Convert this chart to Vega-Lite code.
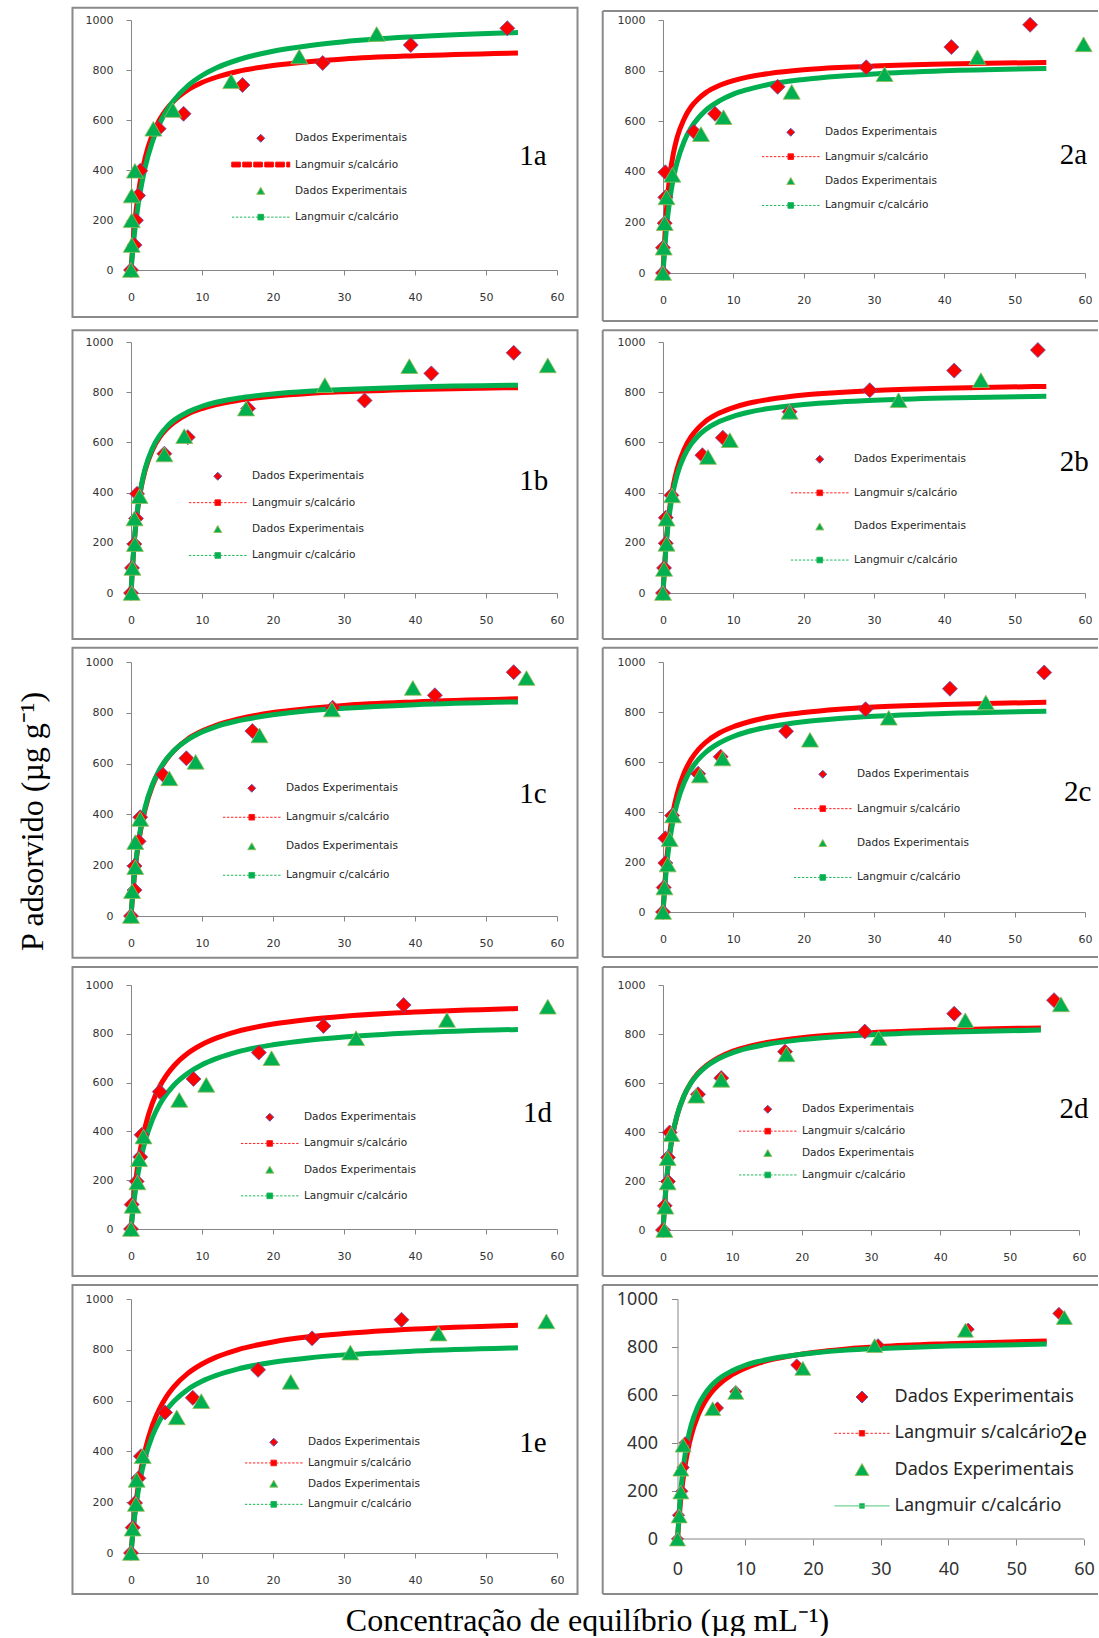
{
"$schema": "https://vega.github.io/schema/vega-lite/v6.json",
"background": "white",
"padding": {"left": 16, "top": 6, "right": 0, "bottom": 0},
"config": {
 "view": {"stroke": null},
 "axis": {"grid": false, "domainColor": "#868686", "domainWidth": 1, "tickColor": "#868686", "tickSize": 5, "labelFont": "DejaVu Sans", "labelFontSize": 11, "labelColor": "#333333", "labelFlush": false, "labelOverlap": false, "titleFont": "Liberation Serif", "titleFontSize": 32, "titleFontWeight": "normal", "titleColor": "#000000"},
 "axisX": {"labelPadding": 16},
 "axisY": {"labelPadding": 13},
 "legend": {"orient": "none", "direction": "vertical", "padding": 0, "symbolSize": 64, "symbolStrokeWidth": 1, "symbolOpacity": 1, "labelFont": "DejaVu Sans", "labelFontSize": 10.5, "labelColor": "#262626", "labelOffset": 29, "labelLimit": 0},
 "line": {"interpolate": "monotone", "strokeWidth": 5},
 "point": {"opacity": 1}
},
"datasets": {
"pts": [
{"p":"1a","s":"A","x":0,"y":0},{"p":"1a","s":"A","x":0.5,"y":100},{"p":"1a","s":"A","x":0.7,"y":199},{"p":"1a","s":"A","x":1.0,"y":298},{"p":"1a","s":"A","x":1.3,"y":397},{"p":"1a","s":"A","x":3.9,"y":565},{"p":"1a","s":"A","x":7.4,"y":625},{"p":"1a","s":"A","x":15.7,"y":740},{"p":"1a","s":"A","x":27,"y":828},{"p":"1a","s":"A","x":39.4,"y":900},{"p":"1a","s":"A","x":53,"y":967},
{"p":"1a","s":"C","x":0,"y":0},{"p":"1a","s":"C","x":0.1,"y":100},{"p":"1a","s":"C","x":0.1,"y":199},{"p":"1a","s":"C","x":0.1,"y":298},{"p":"1a","s":"C","x":0.56,"y":397},{"p":"1a","s":"C","x":3.15,"y":565},{"p":"1a","s":"C","x":5.9,"y":640},{"p":"1a","s":"C","x":14.1,"y":755},{"p":"1a","s":"C","x":23.7,"y":854},{"p":"1a","s":"C","x":34.6,"y":944},
{"p":"2a","s":"A","x":0,"y":0},{"p":"2a","s":"A","x":0,"y":100},{"p":"2a","s":"A","x":0.24,"y":197},{"p":"2a","s":"A","x":0.33,"y":299},{"p":"2a","s":"A","x":0.33,"y":398},{"p":"2a","s":"A","x":4.4,"y":558},{"p":"2a","s":"A","x":7.4,"y":629},{"p":"2a","s":"A","x":16.3,"y":736},{"p":"2a","s":"A","x":28.9,"y":813},{"p":"2a","s":"A","x":41.0,"y":893},{"p":"2a","s":"A","x":52.2,"y":981},
{"p":"2a","s":"C","x":0,"y":0},{"p":"2a","s":"C","x":0.1,"y":100},{"p":"2a","s":"C","x":0.24,"y":197},{"p":"2a","s":"C","x":0.5,"y":299},{"p":"2a","s":"C","x":1.33,"y":388},{"p":"2a","s":"C","x":5.4,"y":549},{"p":"2a","s":"C","x":8.6,"y":616},{"p":"2a","s":"C","x":18.3,"y":716},{"p":"2a","s":"C","x":31.5,"y":786},{"p":"2a","s":"C","x":44.7,"y":853},{"p":"2a","s":"C","x":59.8,"y":904},
{"p":"1b","s":"A","x":0,"y":0},{"p":"1b","s":"A","x":0.14,"y":100},{"p":"1b","s":"A","x":0.47,"y":195},{"p":"1b","s":"A","x":0.7,"y":297},{"p":"1b","s":"A","x":0.85,"y":395},{"p":"1b","s":"A","x":4.7,"y":555},{"p":"1b","s":"A","x":8.0,"y":621},{"p":"1b","s":"A","x":16.5,"y":735},{"p":"1b","s":"A","x":32.9,"y":767},{"p":"1b","s":"A","x":42.3,"y":875},{"p":"1b","s":"A","x":53.9,"y":957},
{"p":"1b","s":"C","x":0.1,"y":0},{"p":"1b","s":"C","x":0.2,"y":100},{"p":"1b","s":"C","x":0.55,"y":195},{"p":"1b","s":"C","x":0.5,"y":297},{"p":"1b","s":"C","x":1.2,"y":386},{"p":"1b","s":"C","x":4.7,"y":552},{"p":"1b","s":"C","x":7.5,"y":625},{"p":"1b","s":"C","x":16.2,"y":735},{"p":"1b","s":"C","x":27.3,"y":828},{"p":"1b","s":"C","x":39.2,"y":904},{"p":"1b","s":"C","x":58.7,"y":907},
{"p":"2b","s":"A","x":0,"y":0},{"p":"2b","s":"A","x":0.15,"y":100},{"p":"2b","s":"A","x":0.4,"y":198},{"p":"2b","s":"A","x":0.4,"y":300},{"p":"2b","s":"A","x":1.2,"y":389},{"p":"2b","s":"A","x":5.6,"y":549},{"p":"2b","s":"A","x":8.5,"y":619},{"p":"2b","s":"A","x":18.0,"y":722},{"p":"2b","s":"A","x":29.4,"y":808},{"p":"2b","s":"A","x":41.4,"y":886},{"p":"2b","s":"A","x":53.3,"y":968},
{"p":"2b","s":"C","x":0,"y":0},{"p":"2b","s":"C","x":0.15,"y":96},{"p":"2b","s":"C","x":0.5,"y":196},{"p":"2b","s":"C","x":0.5,"y":296},{"p":"2b","s":"C","x":1.3,"y":389},{"p":"2b","s":"C","x":6.4,"y":542},{"p":"2b","s":"C","x":9.5,"y":609},{"p":"2b","s":"C","x":18.0,"y":722},{"p":"2b","s":"C","x":33.5,"y":768},{"p":"2b","s":"C","x":45.2,"y":848},
{"p":"1c","s":"A","x":0,"y":0},{"p":"1c","s":"A","x":0.5,"y":102},{"p":"1c","s":"A","x":0.5,"y":197},{"p":"1c","s":"A","x":1.07,"y":294},{"p":"1c","s":"A","x":1.3,"y":389},{"p":"1c","s":"A","x":4.5,"y":556},{"p":"1c","s":"A","x":7.8,"y":621},{"p":"1c","s":"A","x":17.1,"y":728},{"p":"1c","s":"A","x":28.4,"y":820},{"p":"1c","s":"A","x":42.8,"y":869},{"p":"1c","s":"A","x":53.9,"y":960},
{"p":"1c","s":"C","x":0,"y":0},{"p":"1c","s":"C","x":0.15,"y":98},{"p":"1c","s":"C","x":0.6,"y":192},{"p":"1c","s":"C","x":0.6,"y":291},{"p":"1c","s":"C","x":1.3,"y":382},{"p":"1c","s":"C","x":5.4,"y":542},{"p":"1c","s":"C","x":9.1,"y":607},{"p":"1c","s":"C","x":18.1,"y":711},{"p":"1c","s":"C","x":28.3,"y":813},{"p":"1c","s":"C","x":39.7,"y":898},{"p":"1c","s":"C","x":55.7,"y":937},
{"p":"2c","s":"A","x":0,"y":0},{"p":"2c","s":"A","x":0.1,"y":98},{"p":"2c","s":"A","x":0.33,"y":196},{"p":"2c","s":"A","x":0.33,"y":295},{"p":"2c","s":"A","x":1.3,"y":386},{"p":"2c","s":"A","x":5.0,"y":553},{"p":"2c","s":"A","x":8.2,"y":621},{"p":"2c","s":"A","x":17.5,"y":723},{"p":"2c","s":"A","x":28.8,"y":811},{"p":"2c","s":"A","x":40.8,"y":893},{"p":"2c","s":"A","x":54.2,"y":958},
{"p":"2c","s":"C","x":0,"y":0},{"p":"2c","s":"C","x":0.2,"y":98},{"p":"2c","s":"C","x":0.67,"y":190},{"p":"2c","s":"C","x":0.95,"y":291},{"p":"2c","s":"C","x":1.43,"y":386},{"p":"2c","s":"C","x":5.25,"y":546},{"p":"2c","s":"C","x":8.45,"y":614},{"p":"2c","s":"C","x":20.9,"y":689},{"p":"2c","s":"C","x":32.1,"y":777},{"p":"2c","s":"C","x":45.9,"y":838},
{"p":"1d","s":"A","x":0,"y":0},{"p":"1d","s":"A","x":0.1,"y":100},{"p":"1d","s":"A","x":0.8,"y":195},{"p":"1d","s":"A","x":1.3,"y":295},{"p":"1d","s":"A","x":1.5,"y":386},{"p":"1d","s":"A","x":4.05,"y":563},{"p":"1d","s":"A","x":8.8,"y":615},{"p":"1d","s":"A","x":18.0,"y":723},{"p":"1d","s":"A","x":27.1,"y":832},{"p":"1d","s":"A","x":38.4,"y":918},
{"p":"1d","s":"C","x":0,"y":0},{"p":"1d","s":"C","x":0.24,"y":95},{"p":"1d","s":"C","x":0.9,"y":191},{"p":"1d","s":"C","x":1.14,"y":286},{"p":"1d","s":"C","x":1.76,"y":379},{"p":"1d","s":"C","x":6.8,"y":529},{"p":"1d","s":"C","x":10.6,"y":591},{"p":"1d","s":"C","x":19.8,"y":700},{"p":"1d","s":"C","x":31.7,"y":782},{"p":"1d","s":"C","x":44.5,"y":857},{"p":"1d","s":"C","x":58.7,"y":911},
{"p":"2d","s":"A","x":0,"y":0},{"p":"2d","s":"A","x":0.24,"y":99},{"p":"2d","s":"A","x":0.72,"y":198},{"p":"2d","s":"A","x":0.72,"y":296},{"p":"2d","s":"A","x":0.96,"y":398},{"p":"2d","s":"A","x":5.05,"y":554},{"p":"2d","s":"A","x":8.4,"y":620},{"p":"2d","s":"A","x":17.6,"y":728},{"p":"2d","s":"A","x":29.1,"y":810},{"p":"2d","s":"A","x":42.0,"y":883},{"p":"2d","s":"A","x":56.4,"y":938},
{"p":"2d","s":"C","x":0.2,"y":0},{"p":"2d","s":"C","x":0.34,"y":95},{"p":"2d","s":"C","x":0.67,"y":194},{"p":"2d","s":"C","x":0.67,"y":293},{"p":"2d","s":"C","x":1.2,"y":391},{"p":"2d","s":"C","x":4.8,"y":548},{"p":"2d","s":"C","x":8.4,"y":613},{"p":"2d","s":"C","x":17.8,"y":717},{"p":"2d","s":"C","x":31.1,"y":783},{"p":"2d","s":"C","x":43.6,"y":856},{"p":"2d","s":"C","x":57.4,"y":921},
{"p":"1e","s":"A","x":0,"y":0},{"p":"1e","s":"A","x":0.24,"y":100},{"p":"1e","s":"A","x":0.57,"y":197},{"p":"1e","s":"A","x":1.04,"y":294},{"p":"1e","s":"A","x":1.4,"y":381},{"p":"1e","s":"A","x":4.8,"y":553},{"p":"1e","s":"A","x":8.7,"y":611},{"p":"1e","s":"A","x":17.9,"y":721},{"p":"1e","s":"A","x":25.5,"y":845},{"p":"1e","s":"A","x":38.1,"y":918},
{"p":"1e","s":"C","x":0,"y":0},{"p":"1e","s":"C","x":0.24,"y":96},{"p":"1e","s":"C","x":0.7,"y":193},{"p":"1e","s":"C","x":0.8,"y":288},{"p":"1e","s":"C","x":1.65,"y":381},{"p":"1e","s":"C","x":6.45,"y":534},{"p":"1e","s":"C","x":9.9,"y":598},{"p":"1e","s":"C","x":22.5,"y":674},{"p":"1e","s":"C","x":30.9,"y":789},{"p":"1e","s":"C","x":43.3,"y":864},{"p":"1e","s":"C","x":58.5,"y":912},
{"p":"2e","s":"A","x":0,"y":0},{"p":"2e","s":"A","x":0.15,"y":99},{"p":"2e","s":"A","x":0.64,"y":199},{"p":"2e","s":"A","x":0.84,"y":298},{"p":"2e","s":"A","x":1.13,"y":401},{"p":"2e","s":"A","x":5.9,"y":546},{"p":"2e","s":"A","x":8.6,"y":614},{"p":"2e","s":"A","x":17.6,"y":725},{"p":"2e","s":"A","x":29.6,"y":809},{"p":"2e","s":"A","x":42.9,"y":874},{"p":"2e","s":"A","x":56.3,"y":940},
{"p":"2e","s":"C","x":0,"y":0},{"p":"2e","s":"C","x":0.25,"y":96},{"p":"2e","s":"C","x":0.5,"y":196},{"p":"2e","s":"C","x":0.5,"y":291},{"p":"2e","s":"C","x":0.84,"y":391},{"p":"2e","s":"C","x":5.2,"y":543},{"p":"2e","s":"C","x":8.6,"y":611},{"p":"2e","s":"C","x":18.5,"y":711},{"p":"2e","s":"C","x":29.1,"y":806},{"p":"2e","s":"C","x":42.5,"y":870},{"p":"2e","s":"C","x":57.1,"y":923}
],
"fit": [
{"p":"1a","s":"B","x":0,"y":0},{"p":"1a","s":"B","x":0.5,"y":180},{"p":"1a","s":"B","x":1,"y":300},{"p":"1a","s":"B","x":1.5,"y":386},{"p":"1a","s":"B","x":2,"y":450},{"p":"1a","s":"B","x":3,"y":540},{"p":"1a","s":"B","x":4,"y":600},{"p":"1a","s":"B","x":5,"y":643},{"p":"1a","s":"B","x":6,"y":675},{"p":"1a","s":"B","x":8,"y":720},{"p":"1a","s":"B","x":10,"y":750},{"p":"1a","s":"B","x":12,"y":771},{"p":"1a","s":"B","x":15,"y":794},{"p":"1a","s":"B","x":20,"y":818},{"p":"1a","s":"B","x":25,"y":833},{"p":"1a","s":"B","x":30,"y":844},{"p":"1a","s":"B","x":40,"y":857},{"p":"1a","s":"B","x":54.5,"y":868},
{"p":"1a","s":"D","x":0,"y":0},{"p":"1a","s":"D","x":0.5,"y":149},{"p":"1a","s":"D","x":1,"y":259},{"p":"1a","s":"D","x":1.5,"y":344},{"p":"1a","s":"D","x":2,"y":412},{"p":"1a","s":"D","x":3,"y":512},{"p":"1a","s":"D","x":4,"y":583},{"p":"1a","s":"D","x":5,"y":636},{"p":"1a","s":"D","x":6,"y":677},{"p":"1a","s":"D","x":8,"y":737},{"p":"1a","s":"D","x":10,"y":778},{"p":"1a","s":"D","x":12,"y":808},{"p":"1a","s":"D","x":15,"y":840},{"p":"1a","s":"D","x":20,"y":875},{"p":"1a","s":"D","x":25,"y":897},{"p":"1a","s":"D","x":30,"y":913},{"p":"1a","s":"D","x":40,"y":933},{"p":"1a","s":"D","x":54.5,"y":950},
{"p":"2a","s":"B","x":0,"y":0},{"p":"2a","s":"B","x":0.5,"y":253},{"p":"2a","s":"B","x":1,"y":391},{"p":"2a","s":"B","x":1.5,"y":476},{"p":"2a","s":"B","x":2,"y":535},{"p":"2a","s":"B","x":3,"y":609},{"p":"2a","s":"B","x":4,"y":657},{"p":"2a","s":"B","x":5,"y":688},{"p":"2a","s":"B","x":6,"y":711},{"p":"2a","s":"B","x":8,"y":741},{"p":"2a","s":"B","x":10,"y":760},{"p":"2a","s":"B","x":12,"y":774},{"p":"2a","s":"B","x":15,"y":788},{"p":"2a","s":"B","x":20,"y":803},{"p":"2a","s":"B","x":25,"y":812},{"p":"2a","s":"B","x":30,"y":818},{"p":"2a","s":"B","x":40,"y":826},{"p":"2a","s":"B","x":54.5,"y":832},
{"p":"2a","s":"D","x":0,"y":0},{"p":"2a","s":"D","x":0.5,"y":180},{"p":"2a","s":"D","x":1,"y":296},{"p":"2a","s":"D","x":1.5,"y":378},{"p":"2a","s":"D","x":2,"y":437},{"p":"2a","s":"D","x":3,"y":520},{"p":"2a","s":"D","x":4,"y":574},{"p":"2a","s":"D","x":5,"y":612},{"p":"2a","s":"D","x":6,"y":641},{"p":"2a","s":"D","x":8,"y":680},{"p":"2a","s":"D","x":10,"y":707},{"p":"2a","s":"D","x":12,"y":725},{"p":"2a","s":"D","x":15,"y":745},{"p":"2a","s":"D","x":20,"y":765},{"p":"2a","s":"D","x":25,"y":778},{"p":"2a","s":"D","x":30,"y":787},{"p":"2a","s":"D","x":40,"y":799},{"p":"2a","s":"D","x":54.5,"y":808},
{"p":"1b","s":"B","x":0,"y":0},{"p":"1b","s":"B","x":0.5,"y":218},{"p":"1b","s":"B","x":1,"y":346},{"p":"1b","s":"B","x":1.5,"y":430},{"p":"1b","s":"B","x":2,"y":490},{"p":"1b","s":"B","x":3,"y":569},{"p":"1b","s":"B","x":4,"y":619},{"p":"1b","s":"B","x":5,"y":653},{"p":"1b","s":"B","x":6,"y":678},{"p":"1b","s":"B","x":8,"y":713},{"p":"1b","s":"B","x":10,"y":735},{"p":"1b","s":"B","x":12,"y":751},{"p":"1b","s":"B","x":15,"y":767},{"p":"1b","s":"B","x":20,"y":784},{"p":"1b","s":"B","x":25,"y":795},{"p":"1b","s":"B","x":30,"y":802},{"p":"1b","s":"B","x":40,"y":811},{"p":"1b","s":"B","x":54.5,"y":818},
{"p":"1b","s":"D","x":0,"y":0},{"p":"1b","s":"D","x":0.5,"y":220},{"p":"1b","s":"D","x":1,"y":350},{"p":"1b","s":"D","x":1.5,"y":435},{"p":"1b","s":"D","x":2,"y":496},{"p":"1b","s":"D","x":3,"y":576},{"p":"1b","s":"D","x":4,"y":626},{"p":"1b","s":"D","x":5,"y":661},{"p":"1b","s":"D","x":6,"y":687},{"p":"1b","s":"D","x":8,"y":721},{"p":"1b","s":"D","x":10,"y":744},{"p":"1b","s":"D","x":12,"y":760},{"p":"1b","s":"D","x":15,"y":776},{"p":"1b","s":"D","x":20,"y":793},{"p":"1b","s":"D","x":25,"y":804},{"p":"1b","s":"D","x":30,"y":811},{"p":"1b","s":"D","x":40,"y":821},{"p":"1b","s":"D","x":54.5,"y":828},
{"p":"2b","s":"B","x":0,"y":0},{"p":"2b","s":"B","x":0.5,"y":219},{"p":"2b","s":"B","x":1,"y":348},{"p":"2b","s":"B","x":1.5,"y":433},{"p":"2b","s":"B","x":2,"y":493},{"p":"2b","s":"B","x":3,"y":572},{"p":"2b","s":"B","x":4,"y":623},{"p":"2b","s":"B","x":5,"y":657},{"p":"2b","s":"B","x":6,"y":683},{"p":"2b","s":"B","x":8,"y":717},{"p":"2b","s":"B","x":10,"y":739},{"p":"2b","s":"B","x":12,"y":755},{"p":"2b","s":"B","x":15,"y":771},{"p":"2b","s":"B","x":20,"y":789},{"p":"2b","s":"B","x":25,"y":799},{"p":"2b","s":"B","x":30,"y":807},{"p":"2b","s":"B","x":40,"y":816},{"p":"2b","s":"B","x":54.5,"y":823},
{"p":"2b","s":"D","x":0,"y":0},{"p":"2b","s":"D","x":0.5,"y":209},{"p":"2b","s":"D","x":1,"y":332},{"p":"2b","s":"D","x":1.5,"y":412},{"p":"2b","s":"D","x":2,"y":470},{"p":"2b","s":"D","x":3,"y":545},{"p":"2b","s":"D","x":4,"y":593},{"p":"2b","s":"D","x":5,"y":626},{"p":"2b","s":"D","x":6,"y":650},{"p":"2b","s":"D","x":8,"y":683},{"p":"2b","s":"D","x":10,"y":704},{"p":"2b","s":"D","x":12,"y":719},{"p":"2b","s":"D","x":15,"y":735},{"p":"2b","s":"D","x":20,"y":751},{"p":"2b","s":"D","x":25,"y":761},{"p":"2b","s":"D","x":30,"y":768},{"p":"2b","s":"D","x":40,"y":777},{"p":"2b","s":"D","x":54.5,"y":784},
{"p":"1c","s":"B","x":0,"y":0},{"p":"1c","s":"B","x":0.5,"y":163},{"p":"1c","s":"B","x":1,"y":276},{"p":"1c","s":"B","x":1.5,"y":359},{"p":"1c","s":"B","x":2,"y":422},{"p":"1c","s":"B","x":3,"y":511},{"p":"1c","s":"B","x":4,"y":572},{"p":"1c","s":"B","x":5,"y":616},{"p":"1c","s":"B","x":6,"y":649},{"p":"1c","s":"B","x":8,"y":697},{"p":"1c","s":"B","x":10,"y":728},{"p":"1c","s":"B","x":12,"y":751},{"p":"1c","s":"B","x":15,"y":775},{"p":"1c","s":"B","x":20,"y":801},{"p":"1c","s":"B","x":25,"y":817},{"p":"1c","s":"B","x":30,"y":829},{"p":"1c","s":"B","x":40,"y":843},{"p":"1c","s":"B","x":54.5,"y":855},
{"p":"1c","s":"D","x":0,"y":0},{"p":"1c","s":"D","x":0.5,"y":169},{"p":"1c","s":"D","x":1,"y":284},{"p":"1c","s":"D","x":1.5,"y":366},{"p":"1c","s":"D","x":2,"y":429},{"p":"1c","s":"D","x":3,"y":516},{"p":"1c","s":"D","x":4,"y":575},{"p":"1c","s":"D","x":5,"y":618},{"p":"1c","s":"D","x":6,"y":650},{"p":"1c","s":"D","x":8,"y":694},{"p":"1c","s":"D","x":10,"y":724},{"p":"1c","s":"D","x":12,"y":746},{"p":"1c","s":"D","x":15,"y":768},{"p":"1c","s":"D","x":20,"y":792},{"p":"1c","s":"D","x":25,"y":808},{"p":"1c","s":"D","x":30,"y":818},{"p":"1c","s":"D","x":40,"y":832},{"p":"1c","s":"D","x":54.5,"y":843},
{"p":"2c","s":"B","x":0,"y":0},{"p":"2c","s":"B","x":0.5,"y":200},{"p":"2c","s":"B","x":1,"y":324},{"p":"2c","s":"B","x":1.5,"y":410},{"p":"2c","s":"B","x":2,"y":472},{"p":"2c","s":"B","x":3,"y":556},{"p":"2c","s":"B","x":4,"y":611},{"p":"2c","s":"B","x":5,"y":649},{"p":"2c","s":"B","x":6,"y":677},{"p":"2c","s":"B","x":8,"y":716},{"p":"2c","s":"B","x":10,"y":741},{"p":"2c","s":"B","x":12,"y":759},{"p":"2c","s":"B","x":15,"y":779},{"p":"2c","s":"B","x":20,"y":798},{"p":"2c","s":"B","x":25,"y":811},{"p":"2c","s":"B","x":30,"y":820},{"p":"2c","s":"B","x":40,"y":830},{"p":"2c","s":"B","x":54.5,"y":839},
{"p":"2c","s":"D","x":0,"y":0},{"p":"2c","s":"D","x":0.5,"y":179},{"p":"2c","s":"D","x":1,"y":294},{"p":"2c","s":"D","x":1.5,"y":375},{"p":"2c","s":"D","x":2,"y":435},{"p":"2c","s":"D","x":3,"y":517},{"p":"2c","s":"D","x":4,"y":571},{"p":"2c","s":"D","x":5,"y":609},{"p":"2c","s":"D","x":6,"y":637},{"p":"2c","s":"D","x":8,"y":676},{"p":"2c","s":"D","x":10,"y":702},{"p":"2c","s":"D","x":12,"y":721},{"p":"2c","s":"D","x":15,"y":740},{"p":"2c","s":"D","x":20,"y":761},{"p":"2c","s":"D","x":25,"y":774},{"p":"2c","s":"D","x":30,"y":783},{"p":"2c","s":"D","x":40,"y":794},{"p":"2c","s":"D","x":54.5,"y":803},
{"p":"1d","s":"B","x":0,"y":0},{"p":"1d","s":"B","x":0.5,"y":158},{"p":"1d","s":"B","x":1,"y":270},{"p":"1d","s":"B","x":1.5,"y":354},{"p":"1d","s":"B","x":2,"y":420},{"p":"1d","s":"B","x":3,"y":516},{"p":"1d","s":"B","x":4,"y":582},{"p":"1d","s":"B","x":5,"y":630},{"p":"1d","s":"B","x":6,"y":667},{"p":"1d","s":"B","x":8,"y":720},{"p":"1d","s":"B","x":10,"y":756},{"p":"1d","s":"B","x":12,"y":782},{"p":"1d","s":"B","x":15,"y":810},{"p":"1d","s":"B","x":20,"y":840},{"p":"1d","s":"B","x":25,"y":859},{"p":"1d","s":"B","x":30,"y":872},{"p":"1d","s":"B","x":40,"y":889},{"p":"1d","s":"B","x":54.5,"y":904},
{"p":"1d","s":"D","x":0,"y":0},{"p":"1d","s":"D","x":0.5,"y":131},{"p":"1d","s":"D","x":1,"y":228},{"p":"1d","s":"D","x":1.5,"y":302},{"p":"1d","s":"D","x":2,"y":360},{"p":"1d","s":"D","x":3,"y":447},{"p":"1d","s":"D","x":4,"y":508},{"p":"1d","s":"D","x":5,"y":553},{"p":"1d","s":"D","x":6,"y":588},{"p":"1d","s":"D","x":8,"y":638},{"p":"1d","s":"D","x":10,"y":673},{"p":"1d","s":"D","x":12,"y":698},{"p":"1d","s":"D","x":15,"y":726},{"p":"1d","s":"D","x":20,"y":755},{"p":"1d","s":"D","x":25,"y":774},{"p":"1d","s":"D","x":30,"y":787},{"p":"1d","s":"D","x":40,"y":804},{"p":"1d","s":"D","x":54.5,"y":818},
{"p":"2d","s":"B","x":0,"y":0},{"p":"2d","s":"B","x":0.5,"y":196},{"p":"2d","s":"B","x":1,"y":319},{"p":"2d","s":"B","x":1.5,"y":403},{"p":"2d","s":"B","x":2,"y":464},{"p":"2d","s":"B","x":3,"y":546},{"p":"2d","s":"B","x":4,"y":600},{"p":"2d","s":"B","x":5,"y":638},{"p":"2d","s":"B","x":6,"y":665},{"p":"2d","s":"B","x":8,"y":703},{"p":"2d","s":"B","x":10,"y":729},{"p":"2d","s":"B","x":12,"y":746},{"p":"2d","s":"B","x":15,"y":765},{"p":"2d","s":"B","x":20,"y":785},{"p":"2d","s":"B","x":25,"y":797},{"p":"2d","s":"B","x":30,"y":805},{"p":"2d","s":"B","x":40,"y":816},{"p":"2d","s":"B","x":54.5,"y":825},
{"p":"2d","s":"D","x":0,"y":0},{"p":"2d","s":"D","x":0.5,"y":199},{"p":"2d","s":"D","x":1,"y":321},{"p":"2d","s":"D","x":1.5,"y":405},{"p":"2d","s":"D","x":2,"y":465},{"p":"2d","s":"D","x":3,"y":546},{"p":"2d","s":"D","x":4,"y":599},{"p":"2d","s":"D","x":5,"y":635},{"p":"2d","s":"D","x":6,"y":662},{"p":"2d","s":"D","x":8,"y":699},{"p":"2d","s":"D","x":10,"y":723},{"p":"2d","s":"D","x":12,"y":740},{"p":"2d","s":"D","x":15,"y":758},{"p":"2d","s":"D","x":20,"y":777},{"p":"2d","s":"D","x":25,"y":789},{"p":"2d","s":"D","x":30,"y":797},{"p":"2d","s":"D","x":40,"y":807},{"p":"2d","s":"D","x":54.5,"y":816},
{"p":"1e","s":"B","x":0,"y":0},{"p":"1e","s":"B","x":0.5,"y":150},{"p":"1e","s":"B","x":1,"y":259},{"p":"1e","s":"B","x":1.5,"y":341},{"p":"1e","s":"B","x":2,"y":406},{"p":"1e","s":"B","x":3,"y":501},{"p":"1e","s":"B","x":4,"y":567},{"p":"1e","s":"B","x":5,"y":616},{"p":"1e","s":"B","x":6,"y":653},{"p":"1e","s":"B","x":8,"y":707},{"p":"1e","s":"B","x":10,"y":744},{"p":"1e","s":"B","x":12,"y":771},{"p":"1e","s":"B","x":15,"y":800},{"p":"1e","s":"B","x":20,"y":831},{"p":"1e","s":"B","x":25,"y":851},{"p":"1e","s":"B","x":30,"y":864},{"p":"1e","s":"B","x":40,"y":882},{"p":"1e","s":"B","x":54.5,"y":897},
{"p":"1e","s":"D","x":0,"y":0},{"p":"1e","s":"D","x":0.5,"y":141},{"p":"1e","s":"D","x":1,"y":241},{"p":"1e","s":"D","x":1.5,"y":317},{"p":"1e","s":"D","x":2,"y":376},{"p":"1e","s":"D","x":3,"y":461},{"p":"1e","s":"D","x":4,"y":520},{"p":"1e","s":"D","x":5,"y":563},{"p":"1e","s":"D","x":6,"y":596},{"p":"1e","s":"D","x":8,"y":644},{"p":"1e","s":"D","x":10,"y":676},{"p":"1e","s":"D","x":12,"y":699},{"p":"1e","s":"D","x":15,"y":724},{"p":"1e","s":"D","x":20,"y":751},{"p":"1e","s":"D","x":25,"y":768},{"p":"1e","s":"D","x":30,"y":780},{"p":"1e","s":"D","x":40,"y":795},{"p":"1e","s":"D","x":54.5,"y":808},
{"p":"2e","s":"B","x":0,"y":0},{"p":"2e","s":"B","x":0.5,"y":171},{"p":"2e","s":"B","x":1,"y":285},{"p":"2e","s":"B","x":1.5,"y":366},{"p":"2e","s":"B","x":2,"y":428},{"p":"2e","s":"B","x":3,"y":513},{"p":"2e","s":"B","x":4,"y":570},{"p":"2e","s":"B","x":5,"y":611},{"p":"2e","s":"B","x":6,"y":641},{"p":"2e","s":"B","x":8,"y":684},{"p":"2e","s":"B","x":10,"y":712},{"p":"2e","s":"B","x":12,"y":733},{"p":"2e","s":"B","x":15,"y":754},{"p":"2e","s":"B","x":20,"y":777},{"p":"2e","s":"B","x":25,"y":792},{"p":"2e","s":"B","x":30,"y":802},{"p":"2e","s":"B","x":40,"y":814},{"p":"2e","s":"B","x":54.5,"y":825},
{"p":"2e","s":"D","x":0,"y":0},{"p":"2e","s":"D","x":0.5,"y":205},{"p":"2e","s":"D","x":1,"y":329},{"p":"2e","s":"D","x":1.5,"y":412},{"p":"2e","s":"D","x":2,"y":472},{"p":"2e","s":"D","x":3,"y":552},{"p":"2e","s":"D","x":4,"y":603},{"p":"2e","s":"D","x":5,"y":639},{"p":"2e","s":"D","x":6,"y":665},{"p":"2e","s":"D","x":8,"y":700},{"p":"2e","s":"D","x":10,"y":724},{"p":"2e","s":"D","x":12,"y":740},{"p":"2e","s":"D","x":15,"y":757},{"p":"2e","s":"D","x":20,"y":775},{"p":"2e","s":"D","x":25,"y":787},{"p":"2e","s":"D","x":30,"y":794},{"p":"2e","s":"D","x":40,"y":804},{"p":"2e","s":"D","x":54.5,"y":812}
]
},
"columns": 2,
"spacing": {"row": 69, "column": 106},
"align": "each",
"bounds": "flush",
"resolve": {"scale": {"x": "independent", "y": "independent", "color": "independent", "shape": "independent", "stroke": "independent"}, "legend": {"color": "independent", "shape": "independent", "stroke": "independent"}},
"concat": [
{"width": 426, "height": 250, "layer": [
 {"data": {"values": [{}]}, "mark": {"type": "rect", "filled": false, "color": "#8a8a8a", "strokeWidth": 2}, "encoding": {"x": {"datum": -8.24, "type": "quantitative"}, "x2": {"datum": 62.89}, "y": {"datum": 1049.2, "type": "quantitative"}, "y2": {"datum": -188}}},
 {"data": {"name": "fit"}, "transform": [{"filter": "datum.p=='1a' && datum.s=='B'"}], "mark": {"type": "line", "color": "#FF0000"}, "encoding": {"x": {"field": "x", "type": "quantitative", "scale": {"domain": [0, 60], "nice": false, "zero": false}, "axis": {"values": [0,10,20,30,40,50,60], "title": null}}, "y": {"field": "y", "type": "quantitative", "scale": {"domain": [0, 1000], "nice": false}, "axis": {"values": [0,100,200,300,400,500,600,700,800,900,1000], "format": "d", "title": null}}}},
 {"data": {"name": "fit"}, "transform": [{"filter": "datum.p=='1a' && datum.s=='D'"}], "mark": {"type": "line", "color": "#00B050"}, "encoding": {"x": {"field": "x", "type": "quantitative", "scale": {"domain": [0, 60], "nice": false, "zero": false}}, "y": {"field": "y", "type": "quantitative", "scale": {"domain": [0, 1000], "nice": false}}}},
 {"data": {"name": "pts"}, "transform": [{"filter": "datum.p=='1a' && datum.s=='A'"}], "mark": {"type": "point", "shape": "diamond", "filled": true, "size": 225, "fill": "#FF0000", "stroke": "#5A5AB4", "strokeWidth": 0.8, "opacity": 1}, "encoding": {"x": {"field": "x", "type": "quantitative", "scale": {"domain": [0, 60], "nice": false, "zero": false}}, "y": {"field": "y", "type": "quantitative", "scale": {"domain": [0, 1000], "nice": false}}}},
 {"data": {"name": "pts"}, "transform": [{"filter": "datum.p=='1a' && datum.s=='C'"}], "mark": {"type": "point", "shape": "triangle-up", "filled": true, "size": 289, "fill": "#00B050", "stroke": "#9BBB59", "strokeWidth": 0.8, "opacity": 1}, "encoding": {"x": {"field": "x", "type": "quantitative", "scale": {"domain": [0, 60], "nice": false, "zero": false}}, "y": {"field": "y", "type": "quantitative", "scale": {"domain": [0, 1000], "nice": false}}}},
 {"data": {"name": "pts"}, "transform": [{"filter": "datum.p=='1a'"}], "mark": {"type": "point", "filled": true, "size": 0, "opacity": 0}, "encoding": {"x": {"field": "x", "type": "quantitative", "scale": {"domain": [0, 60], "nice": false, "zero": false}}, "y": {"field": "y", "type": "quantitative", "scale": {"domain": [0, 1000], "nice": false}},
  "color": {"field": "s", "type": "nominal", "scale": {"domain": ["A","B","C","D"], "range": ["#FF0000","#FF0000","#00B050","#00B050"]}, "legend": {"title": null, "legendX": 124.5, "legendY": 113, "rowPadding": 13.3, "labelExpr": "datum.value=='A'||datum.value=='C' ? 'Dados Experimentais' : datum.value=='B' ? 'Langmuir s/calcário' : 'Langmuir c/calcário'"}},
  "shape": {"field": "s", "type": "nominal", "scale": {"domain": ["A","B","C","D"], "range": ["M-7.25,-1M7.25,1M0,-1L1,0L0,1L-1,0Z", "M-7.25,-1M7.25,1M-7.25,-0.6H-5.1V0.6H-7.25ZM-4.5,-0.6H-2.35V0.6H-4.5ZM-1.75,-0.6H0.4V0.6H-1.75ZM1,-0.6H3.15V0.6H1ZM3.75,-0.6H5.9V0.6H3.75ZM6.5,-0.6H7.25V0.6H6.5Z", "M-7.25,-1M7.25,1M0,-0.87L1,0.87L-1,0.87Z", "M-7.25,-1M7.25,1M-7.2,0H-6.6M-6.2,0H-5.6M-5.2,0H-4.6M-4.2,0H-3.6M-3.2,0H-2.6M-2.2,0H-1.6M-1.2,0H-0.7M0.7,0H1.2M1.6,0H2.2M2.6,0H3.2M3.6,0H4.2M4.6,0H5.2M5.6,0H6.2M6.6,0H7.2M-0.7,-0.7H0.7V0.7H-0.7Z"]}, "legend": {"title": null, "legendX": 124.5, "legendY": 113, "rowPadding": 13.3, "labelExpr": "datum.value=='A'||datum.value=='C' ? 'Dados Experimentais' : datum.value=='B' ? 'Langmuir s/calcário' : 'Langmuir c/calcário'"}},
  "stroke": {"field": "s", "type": "nominal", "scale": {"domain": ["A","B","C","D"], "range": ["#5A5AB4","#FF0000","#9BBB59","#20B858"]}, "legend": {"title": null, "legendX": 124.5, "legendY": 113, "rowPadding": 13.3, "labelExpr": "datum.value=='A'||datum.value=='C' ? 'Dados Experimentais' : datum.value=='B' ? 'Langmuir s/calcário' : 'Langmuir c/calcário'"}}}},
 {"data": {"values": [{}]}, "mark": {"type": "text", "text": "1a", "font": "Liberation Serif", "fontSize": 29, "align": "left", "baseline": "alphabetic", "color": "#000000"}, "encoding": {"x": {"datum": 54.7, "type": "quantitative"}, "y": {"datum": 420, "type": "quantitative"}}}
]},
{"width": 422, "height": 253, "layer": [
 {"data": {"values": [{}]}, "mark": {"type": "rule", "color": "#8a8a8a", "strokeWidth": 2}, "encoding": {"x": {"datum": -8.57, "type": "quantitative"}, "x2": {"datum": 61.85}, "y": {"datum": 1035.6, "type": "quantitative"}}},
 {"data": {"values": [{}]}, "mark": {"type": "rule", "color": "#8a8a8a", "strokeWidth": 2}, "encoding": {"x": {"datum": -8.57, "type": "quantitative"}, "x2": {"datum": 61.85}, "y": {"datum": -189.7, "type": "quantitative"}}},
 {"data": {"values": [{}]}, "mark": {"type": "rule", "color": "#8a8a8a", "strokeWidth": 2}, "encoding": {"x": {"datum": -8.57, "type": "quantitative"}, "y": {"datum": 1035.6, "type": "quantitative"}, "y2": {"datum": -189.7}}},
 {"data": {"name": "fit"}, "transform": [{"filter": "datum.p=='2a' && datum.s=='B'"}], "mark": {"type": "line", "color": "#FF0000"}, "encoding": {"x": {"field": "x", "type": "quantitative", "scale": {"domain": [0, 60], "nice": false, "zero": false}, "axis": {"values": [0,10,20,30,40,50,60], "title": null}}, "y": {"field": "y", "type": "quantitative", "scale": {"domain": [0, 1000], "nice": false}, "axis": {"values": [0,100,200,300,400,500,600,700,800,900,1000], "format": "d", "title": null}}}},
 {"data": {"name": "fit"}, "transform": [{"filter": "datum.p=='2a' && datum.s=='D'"}], "mark": {"type": "line", "color": "#00B050"}, "encoding": {"x": {"field": "x", "type": "quantitative", "scale": {"domain": [0, 60], "nice": false, "zero": false}}, "y": {"field": "y", "type": "quantitative", "scale": {"domain": [0, 1000], "nice": false}}}},
 {"data": {"name": "pts"}, "transform": [{"filter": "datum.p=='2a' && datum.s=='A'"}], "mark": {"type": "point", "shape": "diamond", "filled": true, "size": 225, "fill": "#FF0000", "stroke": "#5A5AB4", "strokeWidth": 0.8, "opacity": 1}, "encoding": {"x": {"field": "x", "type": "quantitative", "scale": {"domain": [0, 60], "nice": false, "zero": false}}, "y": {"field": "y", "type": "quantitative", "scale": {"domain": [0, 1000], "nice": false}}}},
 {"data": {"name": "pts"}, "transform": [{"filter": "datum.p=='2a' && datum.s=='C'"}], "mark": {"type": "point", "shape": "triangle-up", "filled": true, "size": 289, "fill": "#00B050", "stroke": "#9BBB59", "strokeWidth": 0.8, "opacity": 1}, "encoding": {"x": {"field": "x", "type": "quantitative", "scale": {"domain": [0, 60], "nice": false, "zero": false}}, "y": {"field": "y", "type": "quantitative", "scale": {"domain": [0, 1000], "nice": false}}}},
 {"data": {"name": "pts"}, "transform": [{"filter": "datum.p=='2a'"}], "mark": {"type": "point", "filled": true, "size": 0, "opacity": 0}, "encoding": {"x": {"field": "x", "type": "quantitative", "scale": {"domain": [0, 60], "nice": false, "zero": false}}, "y": {"field": "y", "type": "quantitative", "scale": {"domain": [0, 1000], "nice": false}},
  "color": {"field": "s", "type": "nominal", "scale": {"domain": ["A","B","C","D"], "range": ["#FF0000","#FF0000","#00B050","#00B050"]}, "legend": {"title": null, "legendX": 122.5, "legendY": 107, "rowPadding": 11.4, "labelExpr": "datum.value=='A'||datum.value=='C' ? 'Dados Experimentais' : datum.value=='B' ? 'Langmuir s/calcário' : 'Langmuir c/calcário'"}},
  "shape": {"field": "s", "type": "nominal", "scale": {"domain": ["A","B","C","D"], "range": ["M-7.25,-1M7.25,1M0,-1L1,0L0,1L-1,0Z", "M-7.25,-1M7.25,1M-7.2,0H-6.6M-6.2,0H-5.6M-5.2,0H-4.6M-4.2,0H-3.6M-3.2,0H-2.6M-2.2,0H-1.6M-1.2,0H-0.7M0.7,0H1.2M1.6,0H2.2M2.6,0H3.2M3.6,0H4.2M4.6,0H5.2M5.6,0H6.2M6.6,0H7.2M-0.7,-0.7H0.7V0.7H-0.7Z", "M-7.25,-1M7.25,1M0,-0.87L1,0.87L-1,0.87Z", "M-7.25,-1M7.25,1M-7.2,0H-6.6M-6.2,0H-5.6M-5.2,0H-4.6M-4.2,0H-3.6M-3.2,0H-2.6M-2.2,0H-1.6M-1.2,0H-0.7M0.7,0H1.2M1.6,0H2.2M2.6,0H3.2M3.6,0H4.2M4.6,0H5.2M5.6,0H6.2M6.6,0H7.2M-0.7,-0.7H0.7V0.7H-0.7Z"]}, "legend": {"title": null, "legendX": 122.5, "legendY": 107, "rowPadding": 11.4, "labelExpr": "datum.value=='A'||datum.value=='C' ? 'Dados Experimentais' : datum.value=='B' ? 'Langmuir s/calcário' : 'Langmuir c/calcário'"}},
  "stroke": {"field": "s", "type": "nominal", "scale": {"domain": ["A","B","C","D"], "range": ["#5A5AB4","#FF2020","#9BBB59","#20B858"]}, "legend": {"title": null, "legendX": 122.5, "legendY": 107, "rowPadding": 11.4, "labelExpr": "datum.value=='A'||datum.value=='C' ? 'Dados Experimentais' : datum.value=='B' ? 'Langmuir s/calcário' : 'Langmuir c/calcário'"}}}},
 {"data": {"values": [{}]}, "mark": {"type": "text", "text": "2a", "font": "Liberation Serif", "fontSize": 29, "align": "left", "baseline": "alphabetic", "color": "#000000"}, "encoding": {"x": {"datum": 56.4, "type": "quantitative"}, "y": {"datum": 432, "type": "quantitative"}}}
]},
{"width": 426, "height": 251, "layer": [
 {"data": {"values": [{}]}, "mark": {"type": "rect", "filled": false, "color": "#8a8a8a", "strokeWidth": 2}, "encoding": {"x": {"datum": -8.24, "type": "quantitative"}, "x2": {"datum": 62.89}, "y": {"datum": 1046.6, "type": "quantitative"}, "y2": {"datum": -183.3}}},
 {"data": {"name": "fit"}, "transform": [{"filter": "datum.p=='1b' && datum.s=='B'"}], "mark": {"type": "line", "color": "#FF0000"}, "encoding": {"x": {"field": "x", "type": "quantitative", "scale": {"domain": [0, 60], "nice": false, "zero": false}, "axis": {"values": [0,10,20,30,40,50,60], "title": null}}, "y": {"field": "y", "type": "quantitative", "scale": {"domain": [0, 1000], "nice": false}, "axis": {"values": [0,100,200,300,400,500,600,700,800,900,1000], "format": "d", "title": null}}}},
 {"data": {"name": "fit"}, "transform": [{"filter": "datum.p=='1b' && datum.s=='D'"}], "mark": {"type": "line", "color": "#00B050"}, "encoding": {"x": {"field": "x", "type": "quantitative", "scale": {"domain": [0, 60], "nice": false, "zero": false}}, "y": {"field": "y", "type": "quantitative", "scale": {"domain": [0, 1000], "nice": false}}}},
 {"data": {"name": "pts"}, "transform": [{"filter": "datum.p=='1b' && datum.s=='A'"}], "mark": {"type": "point", "shape": "diamond", "filled": true, "size": 225, "fill": "#FF0000", "stroke": "#5A5AB4", "strokeWidth": 0.8, "opacity": 1}, "encoding": {"x": {"field": "x", "type": "quantitative", "scale": {"domain": [0, 60], "nice": false, "zero": false}}, "y": {"field": "y", "type": "quantitative", "scale": {"domain": [0, 1000], "nice": false}}}},
 {"data": {"name": "pts"}, "transform": [{"filter": "datum.p=='1b' && datum.s=='C'"}], "mark": {"type": "point", "shape": "triangle-up", "filled": true, "size": 289, "fill": "#00B050", "stroke": "#9BBB59", "strokeWidth": 0.8, "opacity": 1}, "encoding": {"x": {"field": "x", "type": "quantitative", "scale": {"domain": [0, 60], "nice": false, "zero": false}}, "y": {"field": "y", "type": "quantitative", "scale": {"domain": [0, 1000], "nice": false}}}},
 {"data": {"name": "pts"}, "transform": [{"filter": "datum.p=='1b'"}], "mark": {"type": "point", "filled": true, "size": 0, "opacity": 0}, "encoding": {"x": {"field": "x", "type": "quantitative", "scale": {"domain": [0, 60], "nice": false, "zero": false}}, "y": {"field": "y", "type": "quantitative", "scale": {"domain": [0, 1000], "nice": false}},
  "color": {"field": "s", "type": "nominal", "scale": {"domain": ["A","B","C","D"], "range": ["#FF0000","#FF0000","#00B050","#00B050"]}, "legend": {"title": null, "legendX": 81.5, "legendY": 129, "rowPadding": 13.4, "labelExpr": "datum.value=='A'||datum.value=='C' ? 'Dados Experimentais' : datum.value=='B' ? 'Langmuir s/calcário' : 'Langmuir c/calcário'"}},
  "shape": {"field": "s", "type": "nominal", "scale": {"domain": ["A","B","C","D"], "range": ["M-7.25,-1M7.25,1M0,-1L1,0L0,1L-1,0Z", "M-7.25,-1M7.25,1M-7.2,0H-6.6M-6.2,0H-5.6M-5.2,0H-4.6M-4.2,0H-3.6M-3.2,0H-2.6M-2.2,0H-1.6M-1.2,0H-0.7M0.7,0H1.2M1.6,0H2.2M2.6,0H3.2M3.6,0H4.2M4.6,0H5.2M5.6,0H6.2M6.6,0H7.2M-0.7,-0.7H0.7V0.7H-0.7Z", "M-7.25,-1M7.25,1M0,-0.87L1,0.87L-1,0.87Z", "M-7.25,-1M7.25,1M-7.2,0H-6.6M-6.2,0H-5.6M-5.2,0H-4.6M-4.2,0H-3.6M-3.2,0H-2.6M-2.2,0H-1.6M-1.2,0H-0.7M0.7,0H1.2M1.6,0H2.2M2.6,0H3.2M3.6,0H4.2M4.6,0H5.2M5.6,0H6.2M6.6,0H7.2M-0.7,-0.7H0.7V0.7H-0.7Z"]}, "legend": {"title": null, "legendX": 81.5, "legendY": 129, "rowPadding": 13.4, "labelExpr": "datum.value=='A'||datum.value=='C' ? 'Dados Experimentais' : datum.value=='B' ? 'Langmuir s/calcário' : 'Langmuir c/calcário'"}},
  "stroke": {"field": "s", "type": "nominal", "scale": {"domain": ["A","B","C","D"], "range": ["#5A5AB4","#FF2020","#9BBB59","#20B858"]}, "legend": {"title": null, "legendX": 81.5, "legendY": 129, "rowPadding": 13.4, "labelExpr": "datum.value=='A'||datum.value=='C' ? 'Dados Experimentais' : datum.value=='B' ? 'Langmuir s/calcário' : 'Langmuir c/calcário'"}}}},
 {"data": {"values": [{}]}, "mark": {"type": "text", "text": "1b", "font": "Liberation Serif", "fontSize": 29, "align": "left", "baseline": "alphabetic", "color": "#000000"}, "encoding": {"x": {"datum": 54.7, "type": "quantitative"}, "y": {"datum": 410, "type": "quantitative"}}}
]},
{"width": 422, "height": 251, "layer": [
 {"data": {"values": [{}]}, "mark": {"type": "rule", "color": "#8a8a8a", "strokeWidth": 2}, "encoding": {"x": {"datum": -8.57, "type": "quantitative"}, "x2": {"datum": 61.85}, "y": {"datum": 1046.6, "type": "quantitative"}}},
 {"data": {"values": [{}]}, "mark": {"type": "rule", "color": "#8a8a8a", "strokeWidth": 2}, "encoding": {"x": {"datum": -8.57, "type": "quantitative"}, "x2": {"datum": 61.85}, "y": {"datum": -183.3, "type": "quantitative"}}},
 {"data": {"values": [{}]}, "mark": {"type": "rule", "color": "#8a8a8a", "strokeWidth": 2}, "encoding": {"x": {"datum": -8.57, "type": "quantitative"}, "y": {"datum": 1046.6, "type": "quantitative"}, "y2": {"datum": -183.3}}},
 {"data": {"name": "fit"}, "transform": [{"filter": "datum.p=='2b' && datum.s=='B'"}], "mark": {"type": "line", "color": "#FF0000"}, "encoding": {"x": {"field": "x", "type": "quantitative", "scale": {"domain": [0, 60], "nice": false, "zero": false}, "axis": {"values": [0,10,20,30,40,50,60], "title": null}}, "y": {"field": "y", "type": "quantitative", "scale": {"domain": [0, 1000], "nice": false}, "axis": {"values": [0,100,200,300,400,500,600,700,800,900,1000], "format": "d", "title": null}}}},
 {"data": {"name": "fit"}, "transform": [{"filter": "datum.p=='2b' && datum.s=='D'"}], "mark": {"type": "line", "color": "#00B050"}, "encoding": {"x": {"field": "x", "type": "quantitative", "scale": {"domain": [0, 60], "nice": false, "zero": false}}, "y": {"field": "y", "type": "quantitative", "scale": {"domain": [0, 1000], "nice": false}}}},
 {"data": {"name": "pts"}, "transform": [{"filter": "datum.p=='2b' && datum.s=='A'"}], "mark": {"type": "point", "shape": "diamond", "filled": true, "size": 225, "fill": "#FF0000", "stroke": "#5A5AB4", "strokeWidth": 0.8, "opacity": 1}, "encoding": {"x": {"field": "x", "type": "quantitative", "scale": {"domain": [0, 60], "nice": false, "zero": false}}, "y": {"field": "y", "type": "quantitative", "scale": {"domain": [0, 1000], "nice": false}}}},
 {"data": {"name": "pts"}, "transform": [{"filter": "datum.p=='2b' && datum.s=='C'"}], "mark": {"type": "point", "shape": "triangle-up", "filled": true, "size": 289, "fill": "#00B050", "stroke": "#9BBB59", "strokeWidth": 0.8, "opacity": 1}, "encoding": {"x": {"field": "x", "type": "quantitative", "scale": {"domain": [0, 60], "nice": false, "zero": false}}, "y": {"field": "y", "type": "quantitative", "scale": {"domain": [0, 1000], "nice": false}}}},
 {"data": {"name": "pts"}, "transform": [{"filter": "datum.p=='2b'"}], "mark": {"type": "point", "filled": true, "size": 0, "opacity": 0}, "encoding": {"x": {"field": "x", "type": "quantitative", "scale": {"domain": [0, 60], "nice": false, "zero": false}}, "y": {"field": "y", "type": "quantitative", "scale": {"domain": [0, 1000], "nice": false}},
  "color": {"field": "s", "type": "nominal", "scale": {"domain": ["A","B","C","D"], "range": ["#FF0000","#FF0000","#00B050","#00B050"]}, "legend": {"title": null, "legendX": 151.5, "legendY": 112, "rowPadding": 20.6, "labelExpr": "datum.value=='A'||datum.value=='C' ? 'Dados Experimentais' : datum.value=='B' ? 'Langmuir s/calcário' : 'Langmuir c/calcário'"}},
  "shape": {"field": "s", "type": "nominal", "scale": {"domain": ["A","B","C","D"], "range": ["M-7.25,-1M7.25,1M0,-1L1,0L0,1L-1,0Z", "M-7.25,-1M7.25,1M-7.2,0H-6.6M-6.2,0H-5.6M-5.2,0H-4.6M-4.2,0H-3.6M-3.2,0H-2.6M-2.2,0H-1.6M-1.2,0H-0.7M0.7,0H1.2M1.6,0H2.2M2.6,0H3.2M3.6,0H4.2M4.6,0H5.2M5.6,0H6.2M6.6,0H7.2M-0.7,-0.7H0.7V0.7H-0.7Z", "M-7.25,-1M7.25,1M0,-0.87L1,0.87L-1,0.87Z", "M-7.25,-1M7.25,1M-7.2,0H-6.6M-6.2,0H-5.6M-5.2,0H-4.6M-4.2,0H-3.6M-3.2,0H-2.6M-2.2,0H-1.6M-1.2,0H-0.7M0.7,0H1.2M1.6,0H2.2M2.6,0H3.2M3.6,0H4.2M4.6,0H5.2M5.6,0H6.2M6.6,0H7.2M-0.7,-0.7H0.7V0.7H-0.7Z"]}, "legend": {"title": null, "legendX": 151.5, "legendY": 112, "rowPadding": 20.6, "labelExpr": "datum.value=='A'||datum.value=='C' ? 'Dados Experimentais' : datum.value=='B' ? 'Langmuir s/calcário' : 'Langmuir c/calcário'"}},
  "stroke": {"field": "s", "type": "nominal", "scale": {"domain": ["A","B","C","D"], "range": ["#5A5AB4","#FF2020","#9BBB59","#20B858"]}, "legend": {"title": null, "legendX": 151.5, "legendY": 112, "rowPadding": 20.6, "labelExpr": "datum.value=='A'||datum.value=='C' ? 'Dados Experimentais' : datum.value=='B' ? 'Langmuir s/calcário' : 'Langmuir c/calcário'"}}}},
 {"data": {"values": [{}]}, "mark": {"type": "text", "text": "2b", "font": "Liberation Serif", "fontSize": 29, "align": "left", "baseline": "alphabetic", "color": "#000000"}, "encoding": {"x": {"datum": 56.4, "type": "quantitative"}, "y": {"datum": 486, "type": "quantitative"}}}
]},
{"width": 426, "height": 254, "layer": [
 {"data": {"values": [{}]}, "mark": {"type": "rect", "filled": false, "color": "#8a8a8a", "strokeWidth": 2}, "encoding": {"x": {"datum": -8.24, "type": "quantitative"}, "x2": {"datum": 62.89}, "y": {"datum": 1056.3, "type": "quantitative"}, "y2": {"datum": -164.2}}},
 {"data": {"name": "fit"}, "transform": [{"filter": "datum.p=='1c' && datum.s=='B'"}], "mark": {"type": "line", "color": "#FF0000"}, "encoding": {"x": {"field": "x", "type": "quantitative", "scale": {"domain": [0, 60], "nice": false, "zero": false}, "axis": {"values": [0,10,20,30,40,50,60], "title": null}}, "y": {"field": "y", "type": "quantitative", "scale": {"domain": [0, 1000], "nice": false}, "axis": {"values": [0,100,200,300,400,500,600,700,800,900,1000], "format": "d", "title": "P adsorvido (µg g⁻¹)", "titleX": -99, "titleY": 159, "titleAngle": -90, "titleAlign": "center", "titleBaseline": "middle"}}}},
 {"data": {"name": "fit"}, "transform": [{"filter": "datum.p=='1c' && datum.s=='D'"}], "mark": {"type": "line", "color": "#00B050"}, "encoding": {"x": {"field": "x", "type": "quantitative", "scale": {"domain": [0, 60], "nice": false, "zero": false}}, "y": {"field": "y", "type": "quantitative", "scale": {"domain": [0, 1000], "nice": false}}}},
 {"data": {"name": "pts"}, "transform": [{"filter": "datum.p=='1c' && datum.s=='A'"}], "mark": {"type": "point", "shape": "diamond", "filled": true, "size": 225, "fill": "#FF0000", "stroke": "#5A5AB4", "strokeWidth": 0.8, "opacity": 1}, "encoding": {"x": {"field": "x", "type": "quantitative", "scale": {"domain": [0, 60], "nice": false, "zero": false}}, "y": {"field": "y", "type": "quantitative", "scale": {"domain": [0, 1000], "nice": false}}}},
 {"data": {"name": "pts"}, "transform": [{"filter": "datum.p=='1c' && datum.s=='C'"}], "mark": {"type": "point", "shape": "triangle-up", "filled": true, "size": 289, "fill": "#00B050", "stroke": "#9BBB59", "strokeWidth": 0.8, "opacity": 1}, "encoding": {"x": {"field": "x", "type": "quantitative", "scale": {"domain": [0, 60], "nice": false, "zero": false}}, "y": {"field": "y", "type": "quantitative", "scale": {"domain": [0, 1000], "nice": false}}}},
 {"data": {"name": "pts"}, "transform": [{"filter": "datum.p=='1c'"}], "mark": {"type": "point", "filled": true, "size": 0, "opacity": 0}, "encoding": {"x": {"field": "x", "type": "quantitative", "scale": {"domain": [0, 60], "nice": false, "zero": false}}, "y": {"field": "y", "type": "quantitative", "scale": {"domain": [0, 1000], "nice": false}},
  "color": {"field": "s", "type": "nominal", "scale": {"domain": ["A","B","C","D"], "range": ["#FF0000","#FF0000","#00B050","#00B050"]}, "legend": {"title": null, "legendX": 115.5, "legendY": 121, "rowPadding": 16, "labelExpr": "datum.value=='A'||datum.value=='C' ? 'Dados Experimentais' : datum.value=='B' ? 'Langmuir s/calcário' : 'Langmuir c/calcário'"}},
  "shape": {"field": "s", "type": "nominal", "scale": {"domain": ["A","B","C","D"], "range": ["M-7.25,-1M7.25,1M0,-1L1,0L0,1L-1,0Z", "M-7.25,-1M7.25,1M-7.2,0H-6.6M-6.2,0H-5.6M-5.2,0H-4.6M-4.2,0H-3.6M-3.2,0H-2.6M-2.2,0H-1.6M-1.2,0H-0.7M0.7,0H1.2M1.6,0H2.2M2.6,0H3.2M3.6,0H4.2M4.6,0H5.2M5.6,0H6.2M6.6,0H7.2M-0.7,-0.7H0.7V0.7H-0.7Z", "M-7.25,-1M7.25,1M0,-0.87L1,0.87L-1,0.87Z", "M-7.25,-1M7.25,1M-7.2,0H-6.6M-6.2,0H-5.6M-5.2,0H-4.6M-4.2,0H-3.6M-3.2,0H-2.6M-2.2,0H-1.6M-1.2,0H-0.7M0.7,0H1.2M1.6,0H2.2M2.6,0H3.2M3.6,0H4.2M4.6,0H5.2M5.6,0H6.2M6.6,0H7.2M-0.7,-0.7H0.7V0.7H-0.7Z"]}, "legend": {"title": null, "legendX": 115.5, "legendY": 121, "rowPadding": 16, "labelExpr": "datum.value=='A'||datum.value=='C' ? 'Dados Experimentais' : datum.value=='B' ? 'Langmuir s/calcário' : 'Langmuir c/calcário'"}},
  "stroke": {"field": "s", "type": "nominal", "scale": {"domain": ["A","B","C","D"], "range": ["#5A5AB4","#FF2020","#9BBB59","#20B858"]}, "legend": {"title": null, "legendX": 115.5, "legendY": 121, "rowPadding": 16, "labelExpr": "datum.value=='A'||datum.value=='C' ? 'Dados Experimentais' : datum.value=='B' ? 'Langmuir s/calcário' : 'Langmuir c/calcário'"}}}},
 {"data": {"values": [{}]}, "mark": {"type": "text", "text": "1c", "font": "Liberation Serif", "fontSize": 29, "align": "left", "baseline": "alphabetic", "color": "#000000"}, "encoding": {"x": {"datum": 54.7, "type": "quantitative"}, "y": {"datum": 444, "type": "quantitative"}}}
]},
{"width": 422, "height": 250, "layer": [
 {"data": {"values": [{}]}, "mark": {"type": "rule", "color": "#8a8a8a", "strokeWidth": 2}, "encoding": {"x": {"datum": -8.57, "type": "quantitative"}, "x2": {"datum": 61.85}, "y": {"datum": 1057.2, "type": "quantitative"}}},
 {"data": {"values": [{}]}, "mark": {"type": "rule", "color": "#8a8a8a", "strokeWidth": 2}, "encoding": {"x": {"datum": -8.57, "type": "quantitative"}, "x2": {"datum": 61.85}, "y": {"datum": -180, "type": "quantitative"}}},
 {"data": {"values": [{}]}, "mark": {"type": "rule", "color": "#8a8a8a", "strokeWidth": 2}, "encoding": {"x": {"datum": -8.57, "type": "quantitative"}, "y": {"datum": 1057.2, "type": "quantitative"}, "y2": {"datum": -180}}},
 {"data": {"name": "fit"}, "transform": [{"filter": "datum.p=='2c' && datum.s=='B'"}], "mark": {"type": "line", "color": "#FF0000"}, "encoding": {"x": {"field": "x", "type": "quantitative", "scale": {"domain": [0, 60], "nice": false, "zero": false}, "axis": {"values": [0,10,20,30,40,50,60], "title": null}}, "y": {"field": "y", "type": "quantitative", "scale": {"domain": [0, 1000], "nice": false}, "axis": {"values": [0,100,200,300,400,500,600,700,800,900,1000], "format": "d", "title": null}}}},
 {"data": {"name": "fit"}, "transform": [{"filter": "datum.p=='2c' && datum.s=='D'"}], "mark": {"type": "line", "color": "#00B050"}, "encoding": {"x": {"field": "x", "type": "quantitative", "scale": {"domain": [0, 60], "nice": false, "zero": false}}, "y": {"field": "y", "type": "quantitative", "scale": {"domain": [0, 1000], "nice": false}}}},
 {"data": {"name": "pts"}, "transform": [{"filter": "datum.p=='2c' && datum.s=='A'"}], "mark": {"type": "point", "shape": "diamond", "filled": true, "size": 225, "fill": "#FF0000", "stroke": "#5A5AB4", "strokeWidth": 0.8, "opacity": 1}, "encoding": {"x": {"field": "x", "type": "quantitative", "scale": {"domain": [0, 60], "nice": false, "zero": false}}, "y": {"field": "y", "type": "quantitative", "scale": {"domain": [0, 1000], "nice": false}}}},
 {"data": {"name": "pts"}, "transform": [{"filter": "datum.p=='2c' && datum.s=='C'"}], "mark": {"type": "point", "shape": "triangle-up", "filled": true, "size": 289, "fill": "#00B050", "stroke": "#9BBB59", "strokeWidth": 0.8, "opacity": 1}, "encoding": {"x": {"field": "x", "type": "quantitative", "scale": {"domain": [0, 60], "nice": false, "zero": false}}, "y": {"field": "y", "type": "quantitative", "scale": {"domain": [0, 1000], "nice": false}}}},
 {"data": {"name": "pts"}, "transform": [{"filter": "datum.p=='2c'"}], "mark": {"type": "point", "filled": true, "size": 0, "opacity": 0}, "encoding": {"x": {"field": "x", "type": "quantitative", "scale": {"domain": [0, 60], "nice": false, "zero": false}}, "y": {"field": "y", "type": "quantitative", "scale": {"domain": [0, 1000], "nice": false}},
  "color": {"field": "s", "type": "nominal", "scale": {"domain": ["A","B","C","D"], "range": ["#FF0000","#FF0000","#00B050","#00B050"]}, "legend": {"title": null, "legendX": 154.5, "legendY": 107, "rowPadding": 21.4, "labelExpr": "datum.value=='A'||datum.value=='C' ? 'Dados Experimentais' : datum.value=='B' ? 'Langmuir s/calcário' : 'Langmuir c/calcário'"}},
  "shape": {"field": "s", "type": "nominal", "scale": {"domain": ["A","B","C","D"], "range": ["M-7.25,-1M7.25,1M0,-1L1,0L0,1L-1,0Z", "M-7.25,-1M7.25,1M-7.2,0H-6.6M-6.2,0H-5.6M-5.2,0H-4.6M-4.2,0H-3.6M-3.2,0H-2.6M-2.2,0H-1.6M-1.2,0H-0.7M0.7,0H1.2M1.6,0H2.2M2.6,0H3.2M3.6,0H4.2M4.6,0H5.2M5.6,0H6.2M6.6,0H7.2M-0.7,-0.7H0.7V0.7H-0.7Z", "M-7.25,-1M7.25,1M0,-0.87L1,0.87L-1,0.87Z", "M-7.25,-1M7.25,1M-7.2,0H-6.6M-6.2,0H-5.6M-5.2,0H-4.6M-4.2,0H-3.6M-3.2,0H-2.6M-2.2,0H-1.6M-1.2,0H-0.7M0.7,0H1.2M1.6,0H2.2M2.6,0H3.2M3.6,0H4.2M4.6,0H5.2M5.6,0H6.2M6.6,0H7.2M-0.7,-0.7H0.7V0.7H-0.7Z"]}, "legend": {"title": null, "legendX": 154.5, "legendY": 107, "rowPadding": 21.4, "labelExpr": "datum.value=='A'||datum.value=='C' ? 'Dados Experimentais' : datum.value=='B' ? 'Langmuir s/calcário' : 'Langmuir c/calcário'"}},
  "stroke": {"field": "s", "type": "nominal", "scale": {"domain": ["A","B","C","D"], "range": ["#5A5AB4","#FF2020","#9BBB59","#20B858"]}, "legend": {"title": null, "legendX": 154.5, "legendY": 107, "rowPadding": 21.4, "labelExpr": "datum.value=='A'||datum.value=='C' ? 'Dados Experimentais' : datum.value=='B' ? 'Langmuir s/calcário' : 'Langmuir c/calcário'"}}}},
 {"data": {"values": [{}]}, "mark": {"type": "text", "text": "2c", "font": "Liberation Serif", "fontSize": 29, "align": "left", "baseline": "alphabetic", "color": "#000000"}, "encoding": {"x": {"datum": 57.0, "type": "quantitative"}, "y": {"datum": 444, "type": "quantitative"}}}
]},
{"width": 426, "height": 244, "layer": [
 {"data": {"values": [{}]}, "mark": {"type": "rect", "filled": false, "color": "#8a8a8a", "strokeWidth": 2}, "encoding": {"x": {"datum": -8.24, "type": "quantitative"}, "x2": {"datum": 62.89}, "y": {"datum": 1073.8, "type": "quantitative"}, "y2": {"datum": -192.6}}},
 {"data": {"name": "fit"}, "transform": [{"filter": "datum.p=='1d' && datum.s=='B'"}], "mark": {"type": "line", "color": "#FF0000"}, "encoding": {"x": {"field": "x", "type": "quantitative", "scale": {"domain": [0, 60], "nice": false, "zero": false}, "axis": {"values": [0,10,20,30,40,50,60], "title": null}}, "y": {"field": "y", "type": "quantitative", "scale": {"domain": [0, 1000], "nice": false}, "axis": {"values": [0,100,200,300,400,500,600,700,800,900,1000], "format": "d", "title": null}}}},
 {"data": {"name": "fit"}, "transform": [{"filter": "datum.p=='1d' && datum.s=='D'"}], "mark": {"type": "line", "color": "#00B050"}, "encoding": {"x": {"field": "x", "type": "quantitative", "scale": {"domain": [0, 60], "nice": false, "zero": false}}, "y": {"field": "y", "type": "quantitative", "scale": {"domain": [0, 1000], "nice": false}}}},
 {"data": {"name": "pts"}, "transform": [{"filter": "datum.p=='1d' && datum.s=='A'"}], "mark": {"type": "point", "shape": "diamond", "filled": true, "size": 225, "fill": "#FF0000", "stroke": "#5A5AB4", "strokeWidth": 0.8, "opacity": 1}, "encoding": {"x": {"field": "x", "type": "quantitative", "scale": {"domain": [0, 60], "nice": false, "zero": false}}, "y": {"field": "y", "type": "quantitative", "scale": {"domain": [0, 1000], "nice": false}}}},
 {"data": {"name": "pts"}, "transform": [{"filter": "datum.p=='1d' && datum.s=='C'"}], "mark": {"type": "point", "shape": "triangle-up", "filled": true, "size": 289, "fill": "#00B050", "stroke": "#9BBB59", "strokeWidth": 0.8, "opacity": 1}, "encoding": {"x": {"field": "x", "type": "quantitative", "scale": {"domain": [0, 60], "nice": false, "zero": false}}, "y": {"field": "y", "type": "quantitative", "scale": {"domain": [0, 1000], "nice": false}}}},
 {"data": {"name": "pts"}, "transform": [{"filter": "datum.p=='1d'"}], "mark": {"type": "point", "filled": true, "size": 0, "opacity": 0}, "encoding": {"x": {"field": "x", "type": "quantitative", "scale": {"domain": [0, 60], "nice": false, "zero": false}}, "y": {"field": "y", "type": "quantitative", "scale": {"domain": [0, 1000], "nice": false}},
  "color": {"field": "s", "type": "nominal", "scale": {"domain": ["A","B","C","D"], "range": ["#FF0000","#FF0000","#00B050","#00B050"]}, "legend": {"title": null, "legendX": 133.5, "legendY": 127, "rowPadding": 13.2, "labelExpr": "datum.value=='A'||datum.value=='C' ? 'Dados Experimentais' : datum.value=='B' ? 'Langmuir s/calcário' : 'Langmuir c/calcário'"}},
  "shape": {"field": "s", "type": "nominal", "scale": {"domain": ["A","B","C","D"], "range": ["M-7.25,-1M7.25,1M0,-1L1,0L0,1L-1,0Z", "M-7.25,-1M7.25,1M-7.2,0H-6.6M-6.2,0H-5.6M-5.2,0H-4.6M-4.2,0H-3.6M-3.2,0H-2.6M-2.2,0H-1.6M-1.2,0H-0.7M0.7,0H1.2M1.6,0H2.2M2.6,0H3.2M3.6,0H4.2M4.6,0H5.2M5.6,0H6.2M6.6,0H7.2M-0.7,-0.7H0.7V0.7H-0.7Z", "M-7.25,-1M7.25,1M0,-0.87L1,0.87L-1,0.87Z", "M-7.25,-1M7.25,1M-7.2,0H-6.6M-6.2,0H-5.6M-5.2,0H-4.6M-4.2,0H-3.6M-3.2,0H-2.6M-2.2,0H-1.6M-1.2,0H-0.7M0.7,0H1.2M1.6,0H2.2M2.6,0H3.2M3.6,0H4.2M4.6,0H5.2M5.6,0H6.2M6.6,0H7.2M-0.7,-0.7H0.7V0.7H-0.7Z"]}, "legend": {"title": null, "legendX": 133.5, "legendY": 127, "rowPadding": 13.2, "labelExpr": "datum.value=='A'||datum.value=='C' ? 'Dados Experimentais' : datum.value=='B' ? 'Langmuir s/calcário' : 'Langmuir c/calcário'"}},
  "stroke": {"field": "s", "type": "nominal", "scale": {"domain": ["A","B","C","D"], "range": ["#5A5AB4","#FF2020","#9BBB59","#20B858"]}, "legend": {"title": null, "legendX": 133.5, "legendY": 127, "rowPadding": 13.2, "labelExpr": "datum.value=='A'||datum.value=='C' ? 'Dados Experimentais' : datum.value=='B' ? 'Langmuir s/calcário' : 'Langmuir c/calcário'"}}}},
 {"data": {"values": [{}]}, "mark": {"type": "text", "text": "1d", "font": "Liberation Serif", "fontSize": 29, "align": "left", "baseline": "alphabetic", "color": "#000000"}, "encoding": {"x": {"datum": 55.2, "type": "quantitative"}, "y": {"datum": 440, "type": "quantitative"}}}
]},
{"width": 416, "height": 245, "layer": [
 {"data": {"values": [{}]}, "mark": {"type": "rule", "color": "#8a8a8a", "strokeWidth": 2}, "encoding": {"x": {"datum": -8.7, "type": "quantitative"}, "x2": {"datum": 62.74}, "y": {"datum": 1073.5, "type": "quantitative"}}},
 {"data": {"values": [{}]}, "mark": {"type": "rule", "color": "#8a8a8a", "strokeWidth": 2}, "encoding": {"x": {"datum": -8.7, "type": "quantitative"}, "x2": {"datum": 62.74}, "y": {"datum": -187.8, "type": "quantitative"}}},
 {"data": {"values": [{}]}, "mark": {"type": "rule", "color": "#8a8a8a", "strokeWidth": 2}, "encoding": {"x": {"datum": -8.7, "type": "quantitative"}, "y": {"datum": 1073.5, "type": "quantitative"}, "y2": {"datum": -187.8}}},
 {"data": {"name": "fit"}, "transform": [{"filter": "datum.p=='2d' && datum.s=='B'"}], "mark": {"type": "line", "color": "#FF0000"}, "encoding": {"x": {"field": "x", "type": "quantitative", "scale": {"domain": [0, 60], "nice": false, "zero": false}, "axis": {"values": [0,10,20,30,40,50,60], "title": null}}, "y": {"field": "y", "type": "quantitative", "scale": {"domain": [0, 1000], "nice": false}, "axis": {"values": [0,100,200,300,400,500,600,700,800,900,1000], "format": "d", "title": null}}}},
 {"data": {"name": "fit"}, "transform": [{"filter": "datum.p=='2d' && datum.s=='D'"}], "mark": {"type": "line", "color": "#00B050"}, "encoding": {"x": {"field": "x", "type": "quantitative", "scale": {"domain": [0, 60], "nice": false, "zero": false}}, "y": {"field": "y", "type": "quantitative", "scale": {"domain": [0, 1000], "nice": false}}}},
 {"data": {"name": "pts"}, "transform": [{"filter": "datum.p=='2d' && datum.s=='A'"}], "mark": {"type": "point", "shape": "diamond", "filled": true, "size": 225, "fill": "#FF0000", "stroke": "#5A5AB4", "strokeWidth": 0.8, "opacity": 1}, "encoding": {"x": {"field": "x", "type": "quantitative", "scale": {"domain": [0, 60], "nice": false, "zero": false}}, "y": {"field": "y", "type": "quantitative", "scale": {"domain": [0, 1000], "nice": false}}}},
 {"data": {"name": "pts"}, "transform": [{"filter": "datum.p=='2d' && datum.s=='C'"}], "mark": {"type": "point", "shape": "triangle-up", "filled": true, "size": 289, "fill": "#00B050", "stroke": "#9BBB59", "strokeWidth": 0.8, "opacity": 1}, "encoding": {"x": {"field": "x", "type": "quantitative", "scale": {"domain": [0, 60], "nice": false, "zero": false}}, "y": {"field": "y", "type": "quantitative", "scale": {"domain": [0, 1000], "nice": false}}}},
 {"data": {"name": "pts"}, "transform": [{"filter": "datum.p=='2d'"}], "mark": {"type": "point", "filled": true, "size": 0, "opacity": 0}, "encoding": {"x": {"field": "x", "type": "quantitative", "scale": {"domain": [0, 60], "nice": false, "zero": false}}, "y": {"field": "y", "type": "quantitative", "scale": {"domain": [0, 1000], "nice": false}},
  "color": {"field": "s", "type": "nominal", "scale": {"domain": ["A","B","C","D"], "range": ["#FF0000","#FF0000","#00B050","#00B050"]}, "legend": {"title": null, "legendX": 99.5, "legendY": 119, "rowPadding": 8.9, "labelExpr": "datum.value=='A'||datum.value=='C' ? 'Dados Experimentais' : datum.value=='B' ? 'Langmuir s/calcário' : 'Langmuir c/calcário'"}},
  "shape": {"field": "s", "type": "nominal", "scale": {"domain": ["A","B","C","D"], "range": ["M-7.25,-1M7.25,1M0,-1L1,0L0,1L-1,0Z", "M-7.25,-1M7.25,1M-7.2,0H-6.6M-6.2,0H-5.6M-5.2,0H-4.6M-4.2,0H-3.6M-3.2,0H-2.6M-2.2,0H-1.6M-1.2,0H-0.7M0.7,0H1.2M1.6,0H2.2M2.6,0H3.2M3.6,0H4.2M4.6,0H5.2M5.6,0H6.2M6.6,0H7.2M-0.7,-0.7H0.7V0.7H-0.7Z", "M-7.25,-1M7.25,1M0,-0.87L1,0.87L-1,0.87Z", "M-7.25,-1M7.25,1M-7.2,0H-6.6M-6.2,0H-5.6M-5.2,0H-4.6M-4.2,0H-3.6M-3.2,0H-2.6M-2.2,0H-1.6M-1.2,0H-0.7M0.7,0H1.2M1.6,0H2.2M2.6,0H3.2M3.6,0H4.2M4.6,0H5.2M5.6,0H6.2M6.6,0H7.2M-0.7,-0.7H0.7V0.7H-0.7Z"]}, "legend": {"title": null, "legendX": 99.5, "legendY": 119, "rowPadding": 8.9, "labelExpr": "datum.value=='A'||datum.value=='C' ? 'Dados Experimentais' : datum.value=='B' ? 'Langmuir s/calcário' : 'Langmuir c/calcário'"}},
  "stroke": {"field": "s", "type": "nominal", "scale": {"domain": ["A","B","C","D"], "range": ["#5A5AB4","#FF2020","#9BBB59","#20B858"]}, "legend": {"title": null, "legendX": 99.5, "legendY": 119, "rowPadding": 8.9, "labelExpr": "datum.value=='A'||datum.value=='C' ? 'Dados Experimentais' : datum.value=='B' ? 'Langmuir s/calcário' : 'Langmuir c/calcário'"}}}},
 {"data": {"values": [{}]}, "mark": {"type": "text", "text": "2d", "font": "Liberation Serif", "fontSize": 29, "align": "left", "baseline": "alphabetic", "color": "#000000"}, "encoding": {"x": {"datum": 57.2, "type": "quantitative"}, "y": {"datum": 458, "type": "quantitative"}}}
]},
{"width": 426, "height": 254, "layer": [
 {"data": {"values": [{}]}, "mark": {"type": "rect", "filled": false, "color": "#8a8a8a", "strokeWidth": 2}, "encoding": {"x": {"datum": -8.24, "type": "quantitative"}, "x2": {"datum": 62.89}, "y": {"datum": 1055.1, "type": "quantitative"}, "y2": {"datum": -161.4}}},
 {"data": {"name": "fit"}, "transform": [{"filter": "datum.p=='1e' && datum.s=='B'"}], "mark": {"type": "line", "color": "#FF0000"}, "encoding": {"x": {"field": "x", "type": "quantitative", "scale": {"domain": [0, 60], "nice": false, "zero": false}, "axis": {"values": [0,10,20,30,40,50,60], "title": "Concentração de equilíbrio (µg mL⁻¹)", "titleX": 456, "titleY": 67, "titleAlign": "center", "titleBaseline": "middle"}}, "y": {"field": "y", "type": "quantitative", "scale": {"domain": [0, 1000], "nice": false}, "axis": {"values": [0,100,200,300,400,500,600,700,800,900,1000], "format": "d", "title": null}}}},
 {"data": {"name": "fit"}, "transform": [{"filter": "datum.p=='1e' && datum.s=='D'"}], "mark": {"type": "line", "color": "#00B050"}, "encoding": {"x": {"field": "x", "type": "quantitative", "scale": {"domain": [0, 60], "nice": false, "zero": false}}, "y": {"field": "y", "type": "quantitative", "scale": {"domain": [0, 1000], "nice": false}}}},
 {"data": {"name": "pts"}, "transform": [{"filter": "datum.p=='1e' && datum.s=='A'"}], "mark": {"type": "point", "shape": "diamond", "filled": true, "size": 225, "fill": "#FF0000", "stroke": "#5A5AB4", "strokeWidth": 0.8, "opacity": 1}, "encoding": {"x": {"field": "x", "type": "quantitative", "scale": {"domain": [0, 60], "nice": false, "zero": false}}, "y": {"field": "y", "type": "quantitative", "scale": {"domain": [0, 1000], "nice": false}}}},
 {"data": {"name": "pts"}, "transform": [{"filter": "datum.p=='1e' && datum.s=='C'"}], "mark": {"type": "point", "shape": "triangle-up", "filled": true, "size": 289, "fill": "#00B050", "stroke": "#9BBB59", "strokeWidth": 0.8, "opacity": 1}, "encoding": {"x": {"field": "x", "type": "quantitative", "scale": {"domain": [0, 60], "nice": false, "zero": false}}, "y": {"field": "y", "type": "quantitative", "scale": {"domain": [0, 1000], "nice": false}}}},
 {"data": {"name": "pts"}, "transform": [{"filter": "datum.p=='1e'"}], "mark": {"type": "point", "filled": true, "size": 0, "opacity": 0}, "encoding": {"x": {"field": "x", "type": "quantitative", "scale": {"domain": [0, 60], "nice": false, "zero": false}}, "y": {"field": "y", "type": "quantitative", "scale": {"domain": [0, 1000], "nice": false}},
  "color": {"field": "s", "type": "nominal", "scale": {"domain": ["A","B","C","D"], "range": ["#FF0000","#FF0000","#00B050","#00B050"]}, "legend": {"title": null, "legendX": 137.5, "legendY": 138, "rowPadding": 7.7, "labelExpr": "datum.value=='A'||datum.value=='C' ? 'Dados Experimentais' : datum.value=='B' ? 'Langmuir s/calcário' : 'Langmuir c/calcário'"}},
  "shape": {"field": "s", "type": "nominal", "scale": {"domain": ["A","B","C","D"], "range": ["M-7.25,-1M7.25,1M0,-1L1,0L0,1L-1,0Z", "M-7.25,-1M7.25,1M-7.2,0H-6.6M-6.2,0H-5.6M-5.2,0H-4.6M-4.2,0H-3.6M-3.2,0H-2.6M-2.2,0H-1.6M-1.2,0H-0.7M0.7,0H1.2M1.6,0H2.2M2.6,0H3.2M3.6,0H4.2M4.6,0H5.2M5.6,0H6.2M6.6,0H7.2M-0.7,-0.7H0.7V0.7H-0.7Z", "M-7.25,-1M7.25,1M0,-0.87L1,0.87L-1,0.87Z", "M-7.25,-1M7.25,1M-7.2,0H-6.6M-6.2,0H-5.6M-5.2,0H-4.6M-4.2,0H-3.6M-3.2,0H-2.6M-2.2,0H-1.6M-1.2,0H-0.7M0.7,0H1.2M1.6,0H2.2M2.6,0H3.2M3.6,0H4.2M4.6,0H5.2M5.6,0H6.2M6.6,0H7.2M-0.7,-0.7H0.7V0.7H-0.7Z"]}, "legend": {"title": null, "legendX": 137.5, "legendY": 138, "rowPadding": 7.7, "labelExpr": "datum.value=='A'||datum.value=='C' ? 'Dados Experimentais' : datum.value=='B' ? 'Langmuir s/calcário' : 'Langmuir c/calcário'"}},
  "stroke": {"field": "s", "type": "nominal", "scale": {"domain": ["A","B","C","D"], "range": ["#5A5AB4","#FF2020","#9BBB59","#20B858"]}, "legend": {"title": null, "legendX": 137.5, "legendY": 138, "rowPadding": 7.7, "labelExpr": "datum.value=='A'||datum.value=='C' ? 'Dados Experimentais' : datum.value=='B' ? 'Langmuir s/calcário' : 'Langmuir c/calcário'"}}}},
 {"data": {"values": [{}]}, "mark": {"type": "text", "text": "1e", "font": "Liberation Serif", "fontSize": 29, "align": "left", "baseline": "alphabetic", "color": "#000000"}, "encoding": {"x": {"datum": 54.7, "type": "quantitative"}, "y": {"datum": 399, "type": "quantitative"}}}
]},
{"width": 421, "height": 240, "layer": [
 {"data": {"values": [{}]}, "mark": {"type": "rule", "color": "#8a8a8a", "strokeWidth": 2}, "encoding": {"x": {"datum": -11.04, "type": "quantitative"}, "x2": {"datum": 62.07}, "y": {"datum": 1058.3, "type": "quantitative"}}},
 {"data": {"values": [{}]}, "mark": {"type": "rule", "color": "#8a8a8a", "strokeWidth": 2}, "encoding": {"x": {"datum": -11.04, "type": "quantitative"}, "x2": {"datum": 62.07}, "y": {"datum": -229.2, "type": "quantitative"}}},
 {"data": {"values": [{}]}, "mark": {"type": "rule", "color": "#8a8a8a", "strokeWidth": 2}, "encoding": {"x": {"datum": -11.04, "type": "quantitative"}, "y": {"datum": 1058.3, "type": "quantitative"}, "y2": {"datum": -229.2}}},
 {"data": {"values": [{}]}, "mark": {"type": "rule", "color": "#868686", "strokeWidth": 1}, "encoding": {"x": {"datum": 0, "type": "quantitative"}, "x2": {"datum": 60}, "y": {"datum": 0, "type": "quantitative"}}},
 {"data": {"name": "fit"}, "transform": [{"filter": "datum.p=='2e' && datum.s=='B'"}], "mark": {"type": "line", "color": "#FF0000"}, "encoding": {"x": {"field": "x", "type": "quantitative", "scale": {"domain": [-2.14, 60], "nice": false, "zero": false}, "axis": {"values": [0,10,20,30,40,50,60], "title": null, "domain": false, "labelFont": "Noto Sans", "labelFontSize": 18, "tickSize": 6, "labelPadding": 15}}, "y": {"field": "y", "type": "quantitative", "scale": {"domain": [0, 1000], "nice": false}, "axis": {"values": [0,200,400,600,800,1000], "format": "d", "title": null, "offset": -14.5, "labelFont": "Noto Sans", "labelFontSize": 18, "tickSize": 6, "labelPadding": 14}}}},
 {"data": {"name": "fit"}, "transform": [{"filter": "datum.p=='2e' && datum.s=='D'"}], "mark": {"type": "line", "color": "#00B050"}, "encoding": {"x": {"field": "x", "type": "quantitative", "scale": {"domain": [-2.14, 60], "nice": false, "zero": false}}, "y": {"field": "y", "type": "quantitative", "scale": {"domain": [0, 1000], "nice": false}}}},
 {"data": {"name": "pts"}, "transform": [{"filter": "datum.p=='2e' && datum.s=='A'"}], "mark": {"type": "point", "shape": "diamond", "filled": true, "size": 150, "fill": "#FF0000", "stroke": "#5A5AB4", "strokeWidth": 0.8, "opacity": 1}, "encoding": {"x": {"field": "x", "type": "quantitative", "scale": {"domain": [-2.14, 60], "nice": false, "zero": false}}, "y": {"field": "y", "type": "quantitative", "scale": {"domain": [0, 1000], "nice": false}}}},
 {"data": {"name": "pts"}, "transform": [{"filter": "datum.p=='2e' && datum.s=='C'"}], "mark": {"type": "point", "shape": "triangle-up", "filled": true, "size": 256, "fill": "#00B050", "stroke": "#9BBB59", "strokeWidth": 0.8, "opacity": 1}, "encoding": {"x": {"field": "x", "type": "quantitative", "scale": {"domain": [-2.14, 60], "nice": false, "zero": false}}, "y": {"field": "y", "type": "quantitative", "scale": {"domain": [0, 1000], "nice": false}}}},
 {"data": {"name": "pts"}, "transform": [{"filter": "datum.p=='2e'"}], "mark": {"type": "point", "filled": true, "size": 0, "opacity": 0}, "encoding": {"x": {"field": "x", "type": "quantitative", "scale": {"domain": [-2.14, 60], "nice": false, "zero": false}}, "y": {"field": "y", "type": "quantitative", "scale": {"domain": [0, 1000], "nice": false}},
  "color": {"field": "s", "type": "nominal", "scale": {"domain": ["A","B","C","D"], "range": ["#FF0000","#FF0000","#00B050","#00B050"]}, "legend": {"title": null, "legendX": 190, "legendY": 89, "rowPadding": 16.3, "symbolSize": 144, "labelFont": "Noto Sans", "labelFontSize": 18, "labelOffset": 23.5, "labelExpr": "datum.value=='A'||datum.value=='C' ? 'Dados Experimentais' : datum.value=='B' ? 'Langmuir s/calcário' : 'Langmuir c/calcário'"}},
  "shape": {"field": "s", "type": "nominal", "scale": {"domain": ["A","B","C","D"], "range": ["M-4.6,-1.2M4.6,1.2M0,-1L1,0L0,1L-1,0Z", "M-4.6,-1.2M4.6,1.2M-4.6,0H-4.2M-3.9,0H-3.5M-3.2,0H-2.8M-2.5,0H-2.1M-1.8,0H-1.4M-1.1,0H-0.6M0.6,0H1.1M1.4,0H1.8M2.1,0H2.5M2.8,0H3.2M3.5,0H3.9M4.2,0H4.6M-0.45,-0.45H0.45V0.45H-0.45Z", "M-4.6,-1.2M4.6,1.2M0,-1L1.15,1L-1.15,1Z", "M-4.6,-1.2M4.6,1.2M-4.6,0H4.6M-0.4,-0.4H0.4V0.4H-0.4Z"]}, "legend": {"title": null, "legendX": 190, "legendY": 89, "rowPadding": 16.3, "symbolSize": 144, "labelFont": "Noto Sans", "labelFontSize": 18, "labelOffset": 23.5, "labelExpr": "datum.value=='A'||datum.value=='C' ? 'Dados Experimentais' : datum.value=='B' ? 'Langmuir s/calcário' : 'Langmuir c/calcário'"}},
  "stroke": {"field": "s", "type": "nominal", "scale": {"domain": ["A","B","C","D"], "range": ["#5A5AB4","#FF2020","#9BBB59","#50C878"]}, "legend": {"title": null, "legendX": 190, "legendY": 89, "rowPadding": 16.3, "symbolSize": 144, "labelFont": "Noto Sans", "labelFontSize": 18, "labelOffset": 23.5, "labelExpr": "datum.value=='A'||datum.value=='C' ? 'Dados Experimentais' : datum.value=='B' ? 'Langmuir s/calcário' : 'Langmuir c/calcário'"}}}},
 {"data": {"values": [{}]}, "mark": {"type": "text", "text": "2e", "font": "Liberation Serif", "fontSize": 29, "align": "left", "baseline": "alphabetic", "color": "#000000"}, "encoding": {"x": {"datum": 56.4, "type": "quantitative"}, "y": {"datum": 390, "type": "quantitative"}}}
]}
]
}
